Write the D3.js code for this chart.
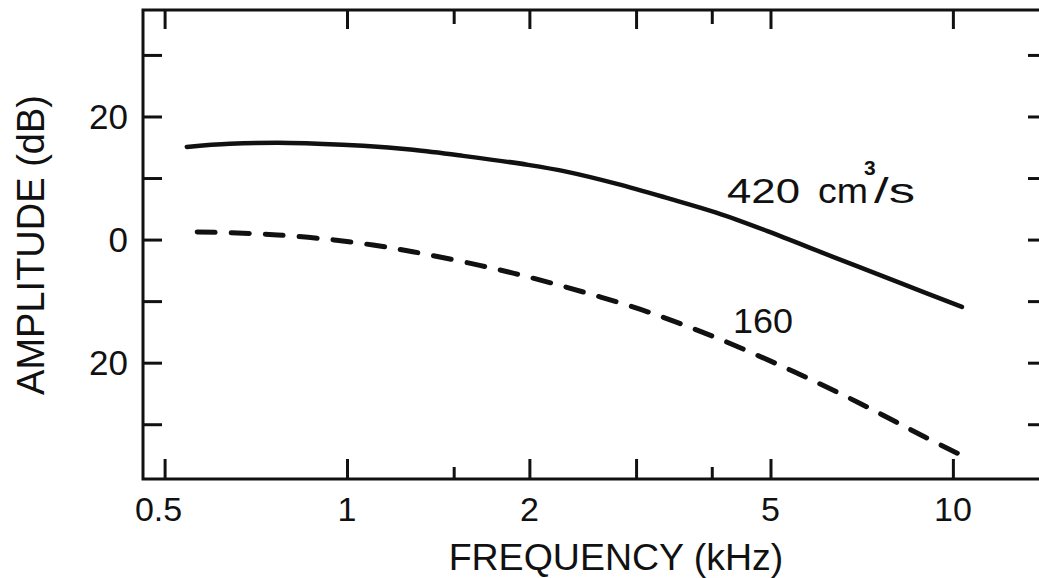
<!DOCTYPE html>
<html>
<head>
<meta charset="utf-8">
<script src="https://cdn.jsdelivr.net/npm/d3@7/dist/d3.min.js"></script>
<style>
  html, body { margin: 0; padding: 0; background: #fff; }
  svg { display: block; }
  text { font-family: "Liberation Sans", Arial, sans-serif; fill: #111; }
</style>
</head>
<body>
<svg id="chart" width="1039" height="578"></svg>
<script>
// Spectral envelope of the glottal source at two airflow rates
const freq420 = [0.544, 0.641, 0.805, 1.063, 1.285, 1.554, 1.99, 2.31, 2.79, 3.37, 4.08, 4.93, 6.34, 8.18, 10.35];
const amp420  = [15.06, 15.55, 15.71, 15.23, 14.58, 13.6, 12.14, 11.0, 9.05, 6.78, 4.34, 1.41, -2.81, -7.04, -10.94];

const freq160 = [0.566, 0.692, 0.811, 0.952, 1.104, 1.251, 1.423, 1.656, 1.887, 2.172, 2.50, 2.88, 3.25, 3.68, 4.16, 4.77, 5.47, 6.20, 7.03, 7.93, 8.99, 10.55];
const amp160  = [1.25, 0.99, 0.59, -0.06, -0.89, -1.77, -2.83, -4.19, -5.49, -7.05, -8.74, -10.55, -12.27, -14.25, -16.33, -18.85, -21.48, -24.0, -26.63, -29.28, -32.08, -35.49];

// Axis ticks
const xMajorTicks = [0.5, 1, 2, 3, 5, 10];
const xMinorTicks = [1.5, 4];
const xTickLabels = [["0.5", 0.5], ["1", 1], ["2", 2], ["5", 5], ["10", 10]];
const yTicks = [30, 20, 10, 0, -10, -20, -30];
const yTickLabels = [["20", 20], ["0", 0], ["20", -20]];

const svg = d3.select("#chart");
const frame = { left: 143, right: 1047, top: 10, bottom: 479 };

const x = d3.scaleLog().domain([0.4606, 14.3]).range([frame.left, frame.right]);
const y = d3.scaleLinear().domain([-38.9, 37.3]).range([frame.bottom, frame.top]);

const ink = "#111";

// Frame
svg.append("rect")
  .attr("x", frame.left).attr("y", frame.top)
  .attr("width", frame.right - frame.left).attr("height", frame.bottom - frame.top)
  .attr("fill", "none").attr("stroke", ink).attr("stroke-width", 3);

function styleAxis(g) {
  g.select(".domain").remove();
  g.selectAll(".tick line").attr("stroke", ink).attr("stroke-width", 3);
  g.selectAll(".tick text").remove();
}

// Inward ticks on all four sides
svg.append("g").attr("transform", `translate(0,${frame.bottom})`)
  .call(d3.axisBottom(x).tickValues(xMajorTicks).tickSizeInner(-20).tickSizeOuter(0)).call(styleAxis);
svg.append("g").attr("transform", `translate(0,${frame.bottom})`)
  .call(d3.axisBottom(x).tickValues(xMinorTicks).tickSizeInner(-12).tickSizeOuter(0)).call(styleAxis);
svg.append("g").attr("transform", `translate(0,${frame.top})`)
  .call(d3.axisTop(x).tickValues(xMajorTicks).tickSizeInner(-19).tickSizeOuter(0)).call(styleAxis);
svg.append("g").attr("transform", `translate(0,${frame.top})`)
  .call(d3.axisTop(x).tickValues(xMinorTicks).tickSizeInner(-14).tickSizeOuter(0)).call(styleAxis);
svg.append("g").attr("transform", `translate(${frame.left},0)`)
  .call(d3.axisLeft(y).tickValues(yTicks).tickSizeInner(-19).tickSizeOuter(0)).call(styleAxis);
svg.append("g").attr("transform", `translate(${frame.right},0)`)
  .call(d3.axisRight(y).tickValues(yTicks).tickSizeInner(-19).tickSizeOuter(0)).call(styleAxis);

// Tick labels
svg.append("g").selectAll("text").data(xTickLabels).join("text")
  .attr("x", d => x(d[1]) - (d[1] === 0.5 ? 6 : 0))
  .attr("y", frame.bottom + 42)
  .attr("text-anchor", "middle")
  .attr("font-size", 34)
  .text(d => d[0]);

svg.append("g").selectAll("text").data(yTickLabels).join("text")
  .attr("x", frame.left - 15)
  .attr("y", d => y(d[1]))
  .attr("dy", "0.36em")
  .attr("text-anchor", "end")
  .attr("font-size", 35)
  .text(d => d[0]);

// Axis titles
svg.append("text")
  .attr("x", 616).attr("y", 570)
  .attr("text-anchor", "middle")
  .attr("font-size", 37.5)
  .text("FREQUENCY (kHz)");

svg.append("text")
  .attr("transform", `translate(44,245) rotate(-90)`)
  .attr("text-anchor", "middle")
  .attr("font-size", 38)
  .text("AMPLITUDE (dB)");

// Curves
const line = d3.line()
  .x(d => x(d[0]))
  .y(d => y(d[1]))
  .curve(d3.curveCatmullRom.alpha(0.5));

svg.append("path")
  .datum(d3.zip(freq420, amp420))
  .attr("d", line)
  .attr("fill", "none").attr("stroke", ink)
  .attr("stroke-width", 4.5).attr("stroke-linecap", "round");

svg.append("path")
  .datum(d3.zip(freq160, amp160))
  .attr("d", line)
  .attr("fill", "none").attr("stroke", ink)
  .attr("stroke-width", 5).attr("stroke-linecap", "round")
  .attr("stroke-dasharray", "18 16");

// Curve labels
const lab = svg.append("g").attr("font-size", 35);
lab.append("text").attr("x", 727).attr("y", 203).attr("textLength", 73).attr("lengthAdjust", "spacingAndGlyphs").text("420");
lab.append("text").attr("x", 818).attr("y", 203).attr("textLength", 50).attr("lengthAdjust", "spacingAndGlyphs").text("cm");
lab.append("text").attr("x", 864).attr("y", 175).attr("font-size", 21).attr("font-weight", "bold").text("3");
lab.append("text").attr("x", 874).attr("y", 203).attr("textLength", 41).attr("lengthAdjust", "spacingAndGlyphs").text("/s");
lab.append("text").attr("x", 733).attr("y", 333).attr("textLength", 60).attr("lengthAdjust", "spacingAndGlyphs").text("160");
</script>
</body>
</html>
